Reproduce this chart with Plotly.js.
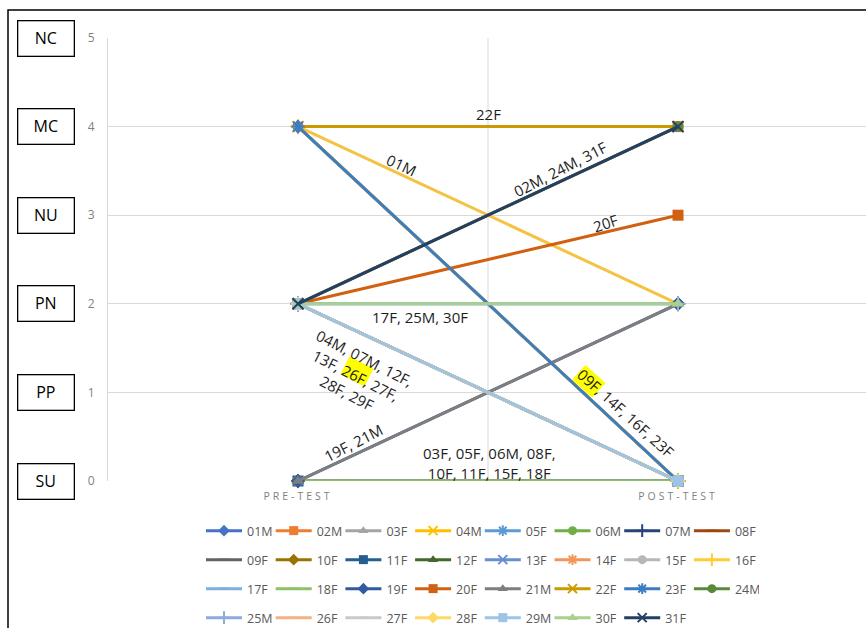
<!DOCTYPE html>
<html>
<head>
<meta charset="utf-8">
<script src="https://cdn.plot.ly/plotly-3.0.1.min.js"></script>
<style>
  html, body { margin: 0; padding: 0; background: #fff; }
  #chart { width: 866px; height: 628px; }
</style>
</head>
<body>
<div id="chart"></div>
<script>
// Test stages on the category axis
const stages = ['PRE-TEST', 'POST-TEST'];

// Conception levels (numeric score and its code)
const levelValues = [0, 1, 2, 3, 4, 5];
const levelCodes = ['SU', 'PP', 'PN', 'NU', 'MC', 'NC'];

// Students and their scores before / after
const students = ['01M', '02M', '03F', '04M', '05F', '06M', '07M', '08F', '09F', '10F',
                  '11F', '12F', '13F', '14F', '15F', '16F', '17F', '18F', '19F', '20F',
                  '21M', '22F', '23F', '24M', '25M', '26F', '27F', '28F', '29M', '30F', '31F'];
const preScores  = [4, 2, 0, 2, 0, 0, 2, 0, 4, 0, 0, 2, 2, 4, 0, 4, 2, 0, 0, 2, 0, 4, 4, 2, 2, 2, 2, 2, 2, 2, 2];
const postScores = [2, 4, 0, 0, 0, 0, 0, 0, 0, 0, 0, 0, 0, 0, 0, 0, 2, 0, 2, 3, 2, 4, 0, 4, 2, 0, 0, 0, 0, 2, 4];

// Group labels written next to the paths
const groupLabels = ['22F', '01M', '02M, 24M, 31F', '20F', '17F, 25M, 30F',
                     '04M, 07M, 12F,<br>13F, 26F, 27F,<br>28F, 29F',
                     '09F, 14F, 16F, 23F', '19F, 21M',
                     '03F, 05F, 06M, 08F,<br>10F, 11F, 15F, 18F'];
// Each label sits along the path of this student
const labelSeries = ['22F', '01M', '31F', '20F', '30F', '29M', '23F', '21M', '18F'];

// ---- styling ----
const seriesColors = ['#4472C4', '#ED7D31', '#A5A5A5', '#FFC000', '#5B9BD5', '#70AD47', '#264478', '#9E480E',
                      '#636363', '#997300', '#255E91', '#43682B', '#698ED0', '#F1975A', '#B7B7B7', '#FFCD33',
                      '#7CAFDD', '#8CC168', '#335AA1', '#D26012', '#7E7E7E', '#CC9A00', '#3A7DC1', '#5A8A39',
                      '#8FAADC', '#F4B183', '#C9C9C9', '#FFD966', '#9DC3E6', '#A9D18E', '#243F66'];
// 01M's path is drawn in amber so it stands out from the blue 4 -> 0 group
const pathColors = seriesColors.slice();
pathColors[0] = '#F4C342';

const symbolCycle = ['diamond', 'square', 'triangle-up', 'x-thin-open', 'asterisk-open',
                     'circle', 'cross-thin-open', 'line-ew-open', 'line-ew-open'];

const W = 866, H = 628;
const margin = { l: 108, r: 0, t: 38, b: 147, pad: 0, autoexpand: false };
const xRange = [-0.5, 1.4947];
const yRange = [0, 5];
const plotW = W - margin.l - margin.r;
const plotH = H - margin.t - margin.b;
const FONT = 'Open Sans, Noto Sans, sans-serif';

function dataToPx(x, y) {
  return [margin.l + (x - xRange[0]) / (xRange[1] - xRange[0]) * plotW,
          margin.t + (yRange[1] - y) / (yRange[1] - yRange[0]) * plotH];
}
function pxToData(px, py) {
  return [xRange[0] + (px - margin.l) / plotW * (xRange[1] - xRange[0]),
          yRange[1] - (py - margin.t) / plotH * (yRange[1] - yRange[0])];
}

function symbolFor(i) { return symbolCycle[i % symbolCycle.length]; }
function markerFor(i, base) {
  const sym = symbolFor(i);
  const open = sym.indexOf('open') >= 0;
  return {
    symbol: sym,
    size: sym.startsWith('line') ? base - 2 : base,
    color: seriesColors[i],
    line: { color: seriesColors[i], width: open ? 2 : 0 }
  };
}

const traces = [];
// paths
students.forEach((name, i) => {
  traces.push({
    type: 'scatter', mode: 'lines+markers',
    x: [0, 1], y: [preScores[i], postScores[i]],
    name: name, showlegend: false, cliponaxis: false, hoverinfo: 'name+y',
    line: { color: pathColors[i], width: 3 },
    marker: markerFor(i, 11)
  });
});
// legend entries, 8 per row
const legendIds = ['legend', 'legend2', 'legend3', 'legend4'];
students.forEach((name, i) => {
  traces.push({
    type: 'scatter', mode: 'lines+markers',
    x: [null], y: [null], name: name,
    legend: legendIds[Math.floor(i / 8)],
    line: { color: seriesColors[i], width: 3 },
    marker: markerFor(i, 9)
  });
});

// label placement: fraction along the path, pixel offset, rotation
const labelPlacement = [
  { t: 0.50, dx: 0,  dy: -13, angle: 0 },
  { t: 0.27, dx: 1,  dy: -9,  angle: 25 },
  { t: 0.69, dx: 0,  dy: -13, angle: -27 },
  { t: 0.81, dx: 0,  dy: -9,  angle: -18 },
  { t: 0.32, dx: 0,  dy: 13,  angle: 0 },
  { t: 0.15, dx: 1,  dy: 45,  angle: 27 },
  { t: 0.86, dx: 1,  dy: -18, angle: 42 },
  { t: 0.15, dx: -2, dy: -11, angle: -27 },
  { t: 0.505, dx: 0, dy: -18, angle: 0 }
];

const annotations = [];
const labelCentersPx = [];
groupLabels.forEach((text, k) => {
  const i = students.indexOf(labelSeries[k]);
  const p = labelPlacement[k];
  const ax = p.t;
  const ay = preScores[i] + (postScores[i] - preScores[i]) * p.t;
  const c = dataToPx(ax, ay);
  labelCentersPx.push([c[0] + p.dx, c[1] + p.dy]);
  annotations.push({
    x: ax, y: ay, xref: 'x', yref: 'y', text: text, showarrow: false,
    xanchor: 'center', yanchor: 'middle', align: 'center',
    xshift: p.dx, yshift: -p.dy, textangle: p.angle,
    font: { family: FONT, size: 15, color: '#1e1e1e' }
  });
});

// level code boxes on the left
levelValues.forEach((v, i) => {
  annotations.push({
    x: (46.5 - margin.l) / plotW, xref: 'paper', y: v, yref: 'y',
    text: levelCodes[i], showarrow: false, xanchor: 'center', yanchor: 'middle',
    width: 53, height: 32, borderpad: 1, borderwidth: 1.3, bordercolor: '#000',
    bgcolor: '#fff', font: { family: FONT, size: 16, color: '#000' }
  });
});

// yellow highlight behind single names inside labels
function rotatedRect(cx, cy, halfW, halfH, angleDeg) {
  const a = angleDeg * Math.PI / 180;
  const ux = Math.cos(a), uy = Math.sin(a), vx = -Math.sin(a), vy = Math.cos(a);
  const pts = [[-1, -1], [1, -1], [1, 1], [-1, 1]].map(([s, r]) => {
    const d = pxToData(cx + s * halfW * ux + r * halfH * vx, cy + s * halfW * uy + r * halfH * vy);
    return d[0].toFixed(5) + ',' + d[1].toFixed(5);
  });
  return 'M' + pts.join(' L') + ' Z';
}
const highlights = [
  { label: 5, dx: 1, dy: -4, angle: 27 },     // 26F
  { label: 6, dx: -37, dy: -32, angle: 42 }   // 09F
];

const shapes = [
  // category divider
  { type: 'line', xref: 'x', yref: 'paper', x0: 0.5, x1: 0.5, y0: 0, y1: 1,
    line: { color: '#d9d9d9', width: 1 }, layer: 'below' },
  // chart frame
  { type: 'rect', xref: 'paper', yref: 'paper',
    x0: (8 - margin.l) / plotW, x1: 1.2, y0: -0.5, y1: (margin.t + plotH - 10) / plotH,
    line: { color: '#000', width: 1.5 }, layer: 'above' }
];
highlights.forEach(h => {
  const c = labelCentersPx[h.label];
  shapes.push({
    type: 'path', xref: 'x', yref: 'y',
    path: rotatedRect(c[0] + h.dx, c[1] + h.dy, 13.5, 10, h.angle),
    fillcolor: '#FFFF00', line: { width: 0 }, layer: 'above'
  });
});

function legendRow(row) {
  return {
    orientation: 'h', x: (201 - margin.l) / plotW, xanchor: 'left',
    y: (margin.t + plotH - (531 + row * 29)) / plotH, yanchor: 'middle',
    entrywidth: 18.7, entrywidthmode: 'pixels', itemwidth: 36,
    bgcolor: 'rgba(0,0,0,0)', borderwidth: 0, traceorder: 'normal',
    font: { family: FONT, size: 12.5, color: '#595959' }
  };
}

const layout = {
  width: W, height: H, margin: margin,
  paper_bgcolor: '#fff', plot_bgcolor: '#fff',
  font: { family: FONT },
  showlegend: true,
  legend: legendRow(0), legend2: legendRow(1), legend3: legendRow(2), legend4: legendRow(3),
  xaxis: {
    range: xRange, tickmode: 'array', tickvals: [0, 1], ticktext: stages,
    showgrid: false, zeroline: false, showline: false, ticks: '',
    ticklabelstandoff: 7, fixedrange: true, automargin: false,
    tickfont: { family: FONT, size: 10.5, color: '#7f7f7f' }
  },
  yaxis: {
    range: yRange, tickmode: 'array', tickvals: levelValues,
    ticktext: levelValues.map(String),
    showgrid: true, gridcolor: '#d9d9d9', gridwidth: 1,
    zeroline: false, showline: true, linecolor: '#d9d9d9', linewidth: 1,
    ticks: '', ticklabelstandoff: 10, fixedrange: true, automargin: false,
    tickfont: { family: FONT, size: 12, color: '#7f7f7f' }
  },
  shapes: shapes,
  annotations: annotations
};

Plotly.newPlot('chart', traces, layout, { displayModeBar: false, staticPlot: true }).then(gd => {
  gd.querySelectorAll('.xtick text').forEach(t => { t.style.letterSpacing = '3px'; });
});
</script>
</body>
</html>
